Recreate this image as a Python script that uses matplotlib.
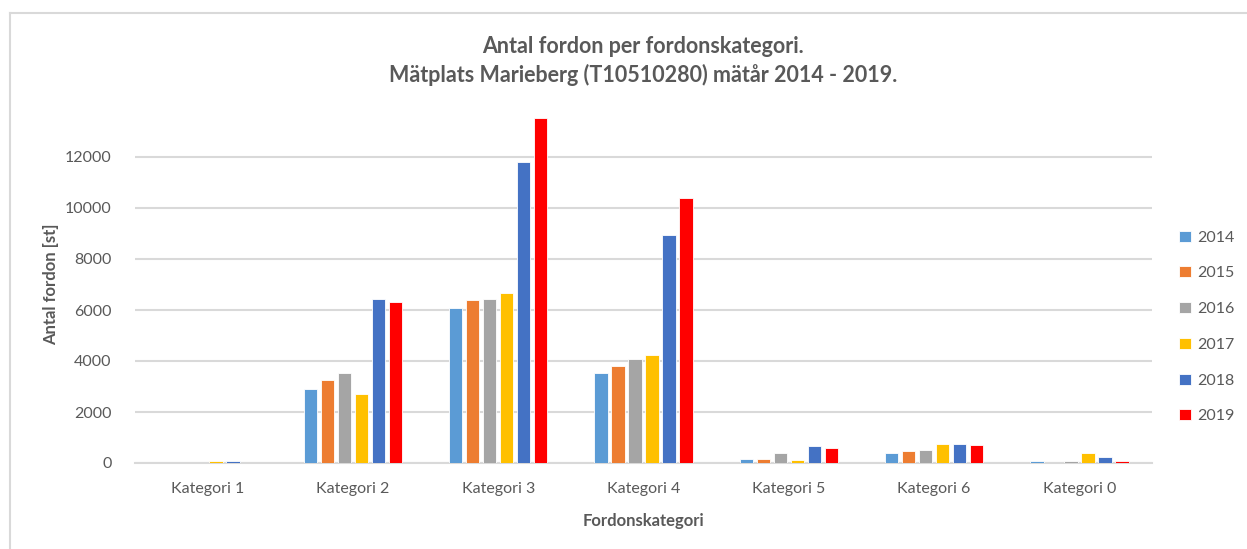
import matplotlib
matplotlib.use("Agg")
import matplotlib.pyplot as plt
import numpy as np
from matplotlib.lines import Line2D

# data
kategorier = ["Kategori 1", "Kategori 2", "Kategori 3", "Kategori 4",
              "Kategori 5", "Kategori 6", "Kategori 0"]
ar = ["2014", "2015", "2016", "2017", "2018", "2019"]

v2014 = [0, 2890, 6090, 3520, 170, 390, 70]
v2015 = [0, 3250, 6380, 3800, 170, 460, 0]
v2016 = [0, 3520, 6420, 4080, 390, 500, 70]
v2017 = [70, 2720, 6670, 4240, 130, 750, 390]
v2018 = [70, 6420, 11800, 8940, 660, 750, 220]
v2019 = [0, 6300, 13530, 10390, 580, 700, 60]
serier = [v2014, v2015, v2016, v2017, v2018, v2019]

farger = ["#5B9BD5", "#ED7D31", "#A5A5A5", "#FFC000", "#4472C4", "#FF0000"]
textfarg = "#595959"
gridfarg = "#D9D9D9"

plt.rcParams['font.family'] = ['Lato', 'DejaVu Sans']

fig = plt.figure(figsize=(12.47, 5.49), dpi=100)
ax = fig.add_axes([135 / 1247, 1 - 463 / 549, 1017 / 1247, 357 / 549])

x = np.arange(len(kategorier))
steg = 0.117
bredd = 0.092
for i, (vals, farg, namn) in enumerate(zip(serier, farger, ar)):
    ax.bar(x + (i - 2.5) * steg, vals, width=bredd, color=farg,
           edgecolor="white", linewidth=0.6, label=namn, zorder=3)

ax.set_xlim(-0.5, len(kategorier) - 0.5)
ax.set_ylim(0, 14000)
ax.set_yticks(np.arange(0, 12001, 2000))
ax.set_xticks(x)
ax.set_xticklabels(kategorier)
ax.grid(axis="y", color=gridfarg, linewidth=1.5, zorder=0)
ax.tick_params(axis="both", length=0, labelsize=11.5, colors=textfarg)
ax.tick_params(axis="y", pad=17)
ax.tick_params(axis="x", pad=14)
for s in ["top", "right", "left"]:
    ax.spines[s].set_visible(False)
ax.spines["bottom"].set_color(gridfarg)
ax.spines["bottom"].set_linewidth(1.5)

ax.set_xlabel("Fordonskategori", fontsize=12, fontweight="bold",
              color=textfarg, labelpad=12)
ax.set_ylabel("Antal fordon [st]", fontsize=12, fontweight="bold",
              color=textfarg, labelpad=4)

fig.text(643 / 1247, 1 - 61 / 549,
         "Antal fordon per fordonskategori.\nMätplats Marieberg (T10510280) mätår 2014 - 2019.",
         ha="center", va="center", fontsize=15.5, fontweight="bold",
         color=textfarg, linespacing=1.35)

leg = fig.legend(loc="center left", bbox_to_anchor=(1165 / 1247, 1 - 327 / 549),
                 frameon=False, fontsize=11.5, handlelength=0.7, handleheight=0.7,
                 handletextpad=0.4, labelspacing=1.35, labelcolor=textfarg)

# chart frame (only left and top edges are visible in the crop)
fig.add_artist(Line2D([10 / 1247, 10 / 1247], [0, 1 - 13 / 549],
                      transform=fig.transFigure, color=gridfarg, linewidth=1.5))
fig.add_artist(Line2D([10 / 1247, 1], [1 - 13 / 549, 1 - 13 / 549],
                      transform=fig.transFigure, color=gridfarg, linewidth=1.5))

fig.savefig("out.png", dpi=100)
